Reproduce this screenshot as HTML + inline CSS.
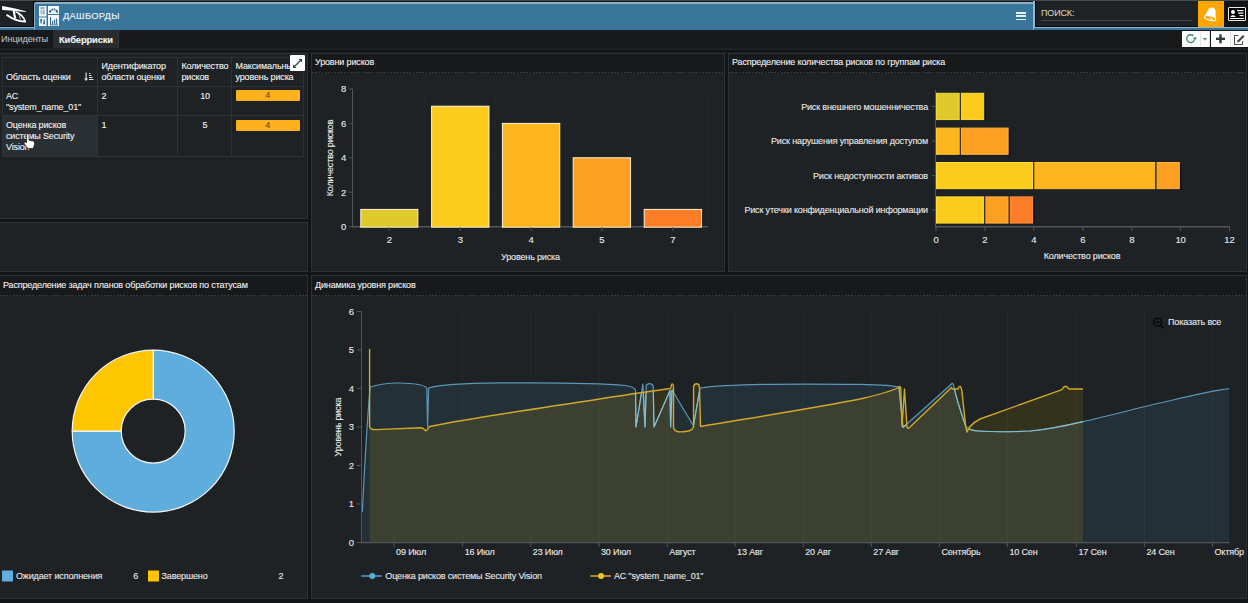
<!DOCTYPE html>
<html><head><meta charset="utf-8">
<style>
*{box-sizing:border-box;margin:0;padding:0}
html,body{width:1248px;height:603px;overflow:hidden;background:#121415;font-family:"Liberation Sans",sans-serif;font-size:9px;color:#e6e6e6}
.a{position:absolute}
.panel{position:absolute;background:#1e2224;border:1px solid #2c3234}
.ttl{position:absolute;left:0;right:0;top:0;height:19px;background:#17191b;padding:3px 0 0 3px;line-height:11px;white-space:nowrap;color:#eee}
.ttl:after{content:"";position:absolute;left:0;right:0;bottom:0;height:1px;background:repeating-linear-gradient(90deg,#363b3e 0 1.6px,transparent 1.6px 3.25px)}
.ttl.b{height:20px;padding-top:4px}
.tx{white-space:nowrap;line-height:11px;color:#f0f0f0}
svg text{font-family:"Liberation Sans",sans-serif;stroke:#ececec;stroke-width:0.12px}
body{-webkit-text-stroke-width:0.12px;letter-spacing:-0.15px}
svg text{letter-spacing:-0.15px}
</style></head><body>
<!-- top strip -->
<div class="a" style="left:0;top:0;width:1248px;height:1px;background:#454b50"></div>
<!-- logo box -->
<div class="a" style="left:0;top:1px;width:34px;height:26px;background:#1e2224;border-bottom:1px solid #050607;border-right:1px solid #050607"></div>
<svg class="a" style="left:0;top:0" width="34" height="28" viewBox="0 0 34 28">
 <path d="M2.6 6.1 C1.8 6.3 1.8 9.8 2.6 9.9 L13 10.8 L25.8 12.1 L25.8 11.2 L14 8.3 Z" fill="#fff"/>
 <path d="M13.7 10 Q14.2 15 15.4 18.6" stroke="#fff" stroke-width="2.2" fill="none"/>
 <path d="M7.2 15.2 C12 18.6, 19 21.3, 25.2 21.6" stroke="#fff" stroke-width="2" fill="none" stroke-linecap="round"/>
 <path d="M15.6 11.7 C20 13.5, 23.5 16.5, 25 21" stroke="#fff" stroke-width="1.6" fill="none"/>
 <path d="M18.6 13.3 L20.4 19.2" stroke="#fff" stroke-width="0.8" fill="none"/>
</svg>
<!-- blue band under everything -->
<div class="a" style="left:0;top:27px;width:1248px;height:3px;background:#3a769c"></div>
<div class="a" style="left:0;top:27px;width:34px;height:1px;background:#8fb4cc"></div>
<div class="a" style="left:1034px;top:27px;width:214px;height:1px;background:#93b8cf"></div>
<!-- header blue -->
<div class="a" style="left:34px;top:2px;width:1000px;height:28px;background:#3a769c;border:1px solid #86afca;border-top:2px solid #8cb0c6;border-bottom:none;border-radius:2px 2px 0 0"></div>
<!-- dashboard icon -->
<svg class="a" style="left:38px;top:5px" width="22" height="22" viewBox="0 0 22 22">
 <rect x="1" y="1" width="7.5" height="10.5" fill="#f4f8fb"/>
 <rect x="10" y="1" width="11" height="8" fill="#f4f8fb"/>
 <rect x="1" y="12.5" width="7.5" height="8.5" fill="#f4f8fb"/>
 <rect x="10" y="10" width="11" height="11" fill="#f4f8fb"/>
 <rect x="2.5" y="2.5" width="4" height="1" fill="#2d5f80"/>
 <rect x="2.5" y="4.5" width="2" height="5" fill="#9dbcd0"/>
 <rect x="5" y="4.5" width="2" height="5" fill="#9dbcd0"/>
 <path d="M11.8 6.6 Q15.5 1.8 19.2 6.6" stroke="#2d5f80" stroke-width="1.8" fill="none" stroke-dasharray="1.5 0.9"/><circle cx="12" cy="6.8" r="1" fill="#2d5f80"/><circle cx="19" cy="6.8" r="1" fill="#2d5f80"/>
 <rect x="2.5" y="14.5" width="1.2" height="4" fill="#2d5f80"/><circle cx="3.1" cy="15" r="1" fill="#2d5f80"/>
 <rect x="5.5" y="14.5" width="1.2" height="4" fill="#2d5f80"/><circle cx="6.1" cy="18.5" r="1" fill="#2d5f80"/>
 <rect x="12" y="12" width="1" height="8" fill="#2d5f80"/><rect x="12" y="19.5" width="8" height="0.8" fill="#2d5f80"/>
 <rect x="14" y="16" width="1.2" height="3.5" fill="#3a769c"/><rect x="16" y="14.5" width="1.2" height="5" fill="#3a769c"/><rect x="18" y="13.5" width="1.2" height="6" fill="#3a769c"/>
</svg>
<div class="a" style="left:63px;top:11px;font-size:9.3px;letter-spacing:0.3px;color:#eef4f8;white-space:nowrap">ДАШБОРДЫ</div>
<!-- hamburger -->
<div class="a" style="left:1016px;top:12.2px;width:10px;height:1.8px;background:#e4f1fb"></div>
<div class="a" style="left:1016px;top:15.3px;width:10px;height:1.8px;background:#e4f1fb"></div>
<div class="a" style="left:1016px;top:18.5px;width:10px;height:1.8px;background:#e4f1fb"></div>
<!-- search -->
<div class="a" style="left:1033px;top:1px;width:2px;height:27px;background:#93b8cf"></div>
<div class="a" style="left:1035px;top:1px;width:163px;height:26px;background:#1e2224;border-left:1px solid #050607;border-bottom:1px solid #050607"></div>
<div class="a" style="left:1041px;top:7.5px;font-size:9px;color:#cfcbbf;white-space:nowrap">ПОИСК:</div>
<div class="a" style="left:1041px;top:19.5px;width:151px;height:1px;background:#43494c"></div>
<!-- bell -->
<div class="a" style="left:1198px;top:1px;width:26px;height:26px;background:#ffa500"></div>
<svg class="a" style="left:1198px;top:1px" width="26" height="26" viewBox="0 0 26 26">
 <g transform="rotate(14 13 13)">
 <path d="M7.6 15.8 C8.8 12 9 8.6 10.6 7.2 C12 6 14.4 6 15.6 7.2 C17.2 8.6 17.2 12 18.6 15.8 C16 17.6 10.2 17.6 7.6 15.8 Z" fill="#fff"/>
 <ellipse cx="13.1" cy="17.2" rx="5.9" ry="2.1" fill="#ffa500" stroke="#fff" stroke-width="1.1"/>
 <circle cx="14.6" cy="17.8" r="1.1" fill="#fff"/>
 </g>
</svg>
<!-- profile card -->
<div class="a" style="left:1228px;top:7px;width:18px;height:14px;background:#000;border:1px solid #e8e8e8;border-radius:1px"></div>
<svg class="a" style="left:1228px;top:7px" width="18" height="14" viewBox="0 0 18 14">
 <circle cx="5" cy="5" r="2" fill="#fff"/><path d="M2.5 10 C2.5 7.5 7.5 7.5 7.5 10 Z" fill="#fff"/>
 <rect x="9" y="3" width="6.5" height="1.2" fill="#fff"/><rect x="10" y="5.5" width="5.5" height="1.2" fill="#fff"/><rect x="11.5" y="8" width="4" height="1.2" fill="#fff"/>
 <rect x="2" y="11" width="14" height="1" fill="#fff"/>
</svg>
<!-- tabs bar -->
<div class="a" style="left:0;top:30px;width:1248px;height:17px;background:#18191b"></div>
<div class="a" style="left:0;top:47px;width:1248px;height:6px;background:linear-gradient(#141617 0 1px,#1c1f20 1px 2px,#212426 2px 3px,#131516 3px 4px,#101213 4px 5px,#1d2022 5px 6px)"></div>
<div class="a" style="left:1px;top:33.5px;color:#b7bec2;white-space:nowrap;font-size:9.2px">Инциденты</div>
<div class="a" style="left:53px;top:30px;width:66px;height:18px;background:#282c2e;border-right:1px solid #33383a"></div>
<div class="a" style="left:59px;top:33.5px;color:#f2f2f2;font-weight:bold;white-space:nowrap;font-size:9.4px">Киберриски</div>
<!-- toolbar buttons -->
<div class="a" style="left:1182px;top:31px;width:28px;height:16px;background:#fbfbfb;border-right:1px solid #ddd"></div>
<div class="a" style="left:1200px;top:32px;width:1px;height:14px;background:#e2e2e2"></div>
<svg class="a" style="left:1182px;top:31px" width="28" height="16" viewBox="0 0 28 16">
 <path d="M12.2 9.2 A3.9 3.9 0 1 1 11.3 4.8" stroke="#3d8b73" stroke-width="1.4" fill="none"/>
 <path d="M10.8 6.6 L15 6.6 L12.9 9.6 Z" fill="#3d8b73"/>
 <path d="M21 7 L25 7 L23 9.5 Z" fill="#3d8b73"/>
</svg>
<div class="a" style="left:1211px;top:31px;width:37px;height:16px;background:#fbfbfb"></div>
<div class="a" style="left:1230px;top:32px;width:1px;height:14px;background:#e2e2e2"></div>
<svg class="a" style="left:1211px;top:31px" width="37" height="16" viewBox="0 0 37 16">
 <rect x="5" y="6.6" width="9" height="2.4" fill="#2f3a3f"/><rect x="8.3" y="3.3" width="2.4" height="9" fill="#2f3a3f"/>
 <path d="M27.5 4.5 L23.5 4.5 L23.5 13.5 L31.5 13.5 L31.5 10" stroke="#555" stroke-width="1.1" fill="none"/>
 <path d="M26 11.5 L26.5 9.5 L32 4 L33.5 5.5 L28 11 Z" fill="#444"/>
</svg>

<!-- PANELS -->
<div class="panel" style="left:-1px;top:53px;width:309px;height:166px"></div>
<div class="panel" style="left:-1px;top:222px;width:309px;height:50px"></div>
<div class="panel" style="left:311px;top:53px;width:414px;height:219px"><div class="ttl">Уровни рисков</div></div>
<div class="panel" style="left:728px;top:53px;width:519px;height:219px"><div class="ttl">Распределение количества рисков по группам риска</div></div>
<div class="panel" style="left:-1px;top:275px;width:309px;height:324px"><div class="ttl b" style="padding-left:3px">Распределение задач планов обработки рисков по статусам</div></div>
<div class="panel" style="left:311px;top:275px;width:936px;height:324px"><div class="ttl b">Динамика уровня рисков</div></div>


<!-- CHARTS -->
<svg class="a" style="left:0;top:0" width="1248" height="603" viewBox="0 0 1248 603">
<line x1="353.5" x2="708" y1="192.2" y2="192.2" stroke="#222628" stroke-width="1"/>
<line x1="353.5" x2="708" y1="157.8" y2="157.8" stroke="#222628" stroke-width="1"/>
<line x1="353.5" x2="708" y1="123.4" y2="123.4" stroke="#222628" stroke-width="1"/>
<line x1="353.5" x2="708" y1="89.0" y2="89.0" stroke="#222628" stroke-width="1"/>
<line x1="424.5" x2="424.5" y1="89" y2="226.6" stroke="#222628" stroke-width="1"/>
<line x1="495.5" x2="495.5" y1="89" y2="226.6" stroke="#222628" stroke-width="1"/>
<line x1="566.5" x2="566.5" y1="89" y2="226.6" stroke="#222628" stroke-width="1"/>
<line x1="637.5" x2="637.5" y1="89" y2="226.6" stroke="#222628" stroke-width="1"/>
<line x1="708" x2="708" y1="89" y2="226.6" stroke="#222628" stroke-width="1"/>
<line x1="352.5" x2="352.5" y1="89" y2="227" stroke="#50575a" stroke-width="1"/>
<line x1="352" x2="708" y1="226.8" y2="226.8" stroke="#50575a" stroke-width="1.5"/>
<rect x="361.8" y="210.4" width="57.1" height="17.8" fill="#000" fill-opacity="0.45"/>
<rect x="360.8" y="209.4" width="57.1" height="17.8" fill="#e0c92c" stroke="#fff6d8" stroke-width="1"/>
<rect x="432.6" y="107.2" width="57.4" height="121.0" fill="#000" fill-opacity="0.45"/>
<rect x="431.6" y="106.2" width="57.4" height="121.0" fill="#fbcb1d" stroke="#fff6d8" stroke-width="1"/>
<rect x="503.4" y="124.4" width="57.4" height="103.8" fill="#000" fill-opacity="0.45"/>
<rect x="502.4" y="123.4" width="57.4" height="103.8" fill="#fdb51d" stroke="#fff6d8" stroke-width="1"/>
<rect x="574.2" y="158.8" width="57.4" height="69.4" fill="#000" fill-opacity="0.45"/>
<rect x="573.2" y="157.8" width="57.4" height="69.4" fill="#fd9f22" stroke="#fff6d8" stroke-width="1"/>
<rect x="645.2" y="210.4" width="57.4" height="17.8" fill="#000" fill-opacity="0.45"/>
<rect x="644.2" y="209.4" width="57.4" height="17.8" fill="#fd7e27" stroke="#fff6d8" stroke-width="1"/>
<line x1="349" x2="353" y1="226.6" y2="226.6" stroke="#50575a"/>
<text x="346.2" y="229.9" text-anchor="end" font-size="9.5" fill="#e6e6e6">0</text>
<line x1="349" x2="353" y1="192.2" y2="192.2" stroke="#50575a"/>
<text x="346.2" y="195.5" text-anchor="end" font-size="9.5" fill="#e6e6e6">2</text>
<line x1="349" x2="353" y1="157.8" y2="157.8" stroke="#50575a"/>
<text x="346.2" y="161.1" text-anchor="end" font-size="9.5" fill="#e6e6e6">4</text>
<line x1="349" x2="353" y1="123.4" y2="123.4" stroke="#50575a"/>
<text x="346.2" y="126.7" text-anchor="end" font-size="9.5" fill="#e6e6e6">6</text>
<line x1="349" x2="353" y1="89.0" y2="89.0" stroke="#50575a"/>
<text x="346.2" y="92.3" text-anchor="end" font-size="9.5" fill="#e6e6e6">8</text>
<line x1="389.3" x2="389.3" y1="227" y2="231" stroke="#50575a"/>
<text x="389.3" y="243" text-anchor="middle" font-size="9.5" fill="#e6e6e6">2</text>
<line x1="460.3" x2="460.3" y1="227" y2="231" stroke="#50575a"/>
<text x="460.3" y="243" text-anchor="middle" font-size="9.5" fill="#e6e6e6">3</text>
<line x1="531.1" x2="531.1" y1="227" y2="231" stroke="#50575a"/>
<text x="531.1" y="243" text-anchor="middle" font-size="9.5" fill="#e6e6e6">4</text>
<line x1="601.9" x2="601.9" y1="227" y2="231" stroke="#50575a"/>
<text x="601.9" y="243" text-anchor="middle" font-size="9.5" fill="#e6e6e6">5</text>
<line x1="672.9" x2="672.9" y1="227" y2="231" stroke="#50575a"/>
<text x="672.9" y="243" text-anchor="middle" font-size="9.5" fill="#e6e6e6">7</text>
<text x="530.5" y="259.5" text-anchor="middle" font-size="9" fill="#e6e6e6">Уровень риска</text>
<text transform="translate(333,158) rotate(-90)" text-anchor="middle" font-size="9" fill="#e6e6e6">Количество рисков</text>
<line x1="984.9" x2="984.9" y1="90" y2="226.5" stroke="#222628"/>
<line x1="1033.8" x2="1033.8" y1="90" y2="226.5" stroke="#222628"/>
<line x1="1082.8" x2="1082.8" y1="90" y2="226.5" stroke="#222628"/>
<line x1="1131.7" x2="1131.7" y1="90" y2="226.5" stroke="#222628"/>
<line x1="1180.6" x2="1180.6" y1="90" y2="226.5" stroke="#222628"/>
<line x1="1229.5" x2="1229.5" y1="90" y2="226.5" stroke="#222628"/>
<rect x="937.5" y="94.3" width="48.4" height="26.3" fill="#000" fill-opacity="0.45"/><rect x="937.5" y="129.1" width="72.9" height="26.2" fill="#000" fill-opacity="0.45"/><rect x="937.5" y="163.5" width="244.1" height="26.2" fill="#000" fill-opacity="0.45"/><rect x="937.5" y="197.9" width="97.3" height="26.2" fill="#000" fill-opacity="0.45"/>
<rect x="936.5" y="93.3" width="22.7" height="26.3" fill="#e0c92c" stroke="#efdc3c" stroke-width="1"/>
<rect x="961.0" y="93.3" width="22.7" height="26.3" fill="#fbcb1d" stroke="#ffdc3a" stroke-width="1"/>
<line x1="960.5" x2="960.5" y1="92.8" y2="120.1" stroke="#3d3311" stroke-width="1"/>
<line x1="932" x2="936" y1="106.4" y2="106.4" stroke="#50575a"/>
<text x="928" y="109.6" text-anchor="end" font-size="9" fill="#e6e6e6">Риск внешнего мошенничества</text>
<rect x="936.5" y="128.1" width="22.7" height="26.2" fill="#fdb51d" stroke="#ffc83a" stroke-width="1"/>
<rect x="961.0" y="128.1" width="47.1" height="26.2" fill="#fd9f22" stroke="#ffb43e" stroke-width="1"/>
<line x1="960.5" x2="960.5" y1="127.6" y2="154.8" stroke="#3d3311" stroke-width="1"/>
<line x1="932" x2="936" y1="141.2" y2="141.2" stroke="#50575a"/>
<text x="928" y="144.4" text-anchor="end" font-size="9" fill="#e6e6e6">Риск нарушения управления доступом</text>
<rect x="936.5" y="162.5" width="96.0" height="26.2" fill="#fbcb1d" stroke="#ffdc3a" stroke-width="1"/>
<rect x="1034.3" y="162.5" width="120.5" height="26.2" fill="#fdb51d" stroke="#ffc83a" stroke-width="1"/>
<line x1="1033.8" x2="1033.8" y1="162.0" y2="189.2" stroke="#3d3311" stroke-width="1"/>
<rect x="1156.6" y="162.5" width="22.7" height="26.2" fill="#fd9f22" stroke="#ffb43e" stroke-width="1"/>
<line x1="1156.1" x2="1156.1" y1="162.0" y2="189.2" stroke="#3d3311" stroke-width="1"/>
<line x1="932" x2="936" y1="175.6" y2="175.6" stroke="#50575a"/>
<text x="928" y="178.8" text-anchor="end" font-size="9" fill="#e6e6e6">Риск недоступности активов</text>
<rect x="936.5" y="196.9" width="47.1" height="26.2" fill="#fbcb1d" stroke="#ffdc3a" stroke-width="1"/>
<rect x="985.4" y="196.9" width="22.7" height="26.2" fill="#fd9f22" stroke="#ffb43e" stroke-width="1"/>
<line x1="984.9" x2="984.9" y1="196.4" y2="223.6" stroke="#3d3311" stroke-width="1"/>
<rect x="1009.9" y="196.9" width="22.7" height="26.2" fill="#fd7e27" stroke="#ff9240" stroke-width="1"/>
<line x1="1009.4" x2="1009.4" y1="196.4" y2="223.6" stroke="#3d3311" stroke-width="1"/>
<line x1="932" x2="936" y1="210.0" y2="210.0" stroke="#50575a"/>
<text x="928" y="213.2" text-anchor="end" font-size="9" fill="#e6e6e6">Риск утечки конфиденциальной информации</text>
<line x1="935.5" x2="935.5" y1="90" y2="227" stroke="#50575a"/>
<line x1="935" x2="1230" y1="226.8" y2="226.8" stroke="#50575a" stroke-width="1.5"/>
<line x1="936.0" x2="936.0" y1="227" y2="231" stroke="#50575a"/>
<text x="936.0" y="242.5" text-anchor="middle" font-size="9.5" fill="#e6e6e6">0</text>
<line x1="984.9" x2="984.9" y1="227" y2="231" stroke="#50575a"/>
<text x="984.9" y="242.5" text-anchor="middle" font-size="9.5" fill="#e6e6e6">2</text>
<line x1="1033.8" x2="1033.8" y1="227" y2="231" stroke="#50575a"/>
<text x="1033.8" y="242.5" text-anchor="middle" font-size="9.5" fill="#e6e6e6">4</text>
<line x1="1082.8" x2="1082.8" y1="227" y2="231" stroke="#50575a"/>
<text x="1082.8" y="242.5" text-anchor="middle" font-size="9.5" fill="#e6e6e6">6</text>
<line x1="1131.7" x2="1131.7" y1="227" y2="231" stroke="#50575a"/>
<text x="1131.7" y="242.5" text-anchor="middle" font-size="9.5" fill="#e6e6e6">8</text>
<line x1="1180.6" x2="1180.6" y1="227" y2="231" stroke="#50575a"/>
<text x="1180.6" y="242.5" text-anchor="middle" font-size="9.5" fill="#e6e6e6">10</text>
<line x1="1229.5" x2="1229.5" y1="227" y2="231" stroke="#50575a"/>
<text x="1229.5" y="242.5" text-anchor="middle" font-size="9.5" fill="#e6e6e6">12</text>
<text x="1082" y="259" text-anchor="middle" font-size="9" fill="#e6e6e6">Количество рисков</text>
<path d="M153.2 350.1 A81 81 0 1 1 72.19999999999999 431.1 L121.19999999999999 431.1 A32 32 0 1 0 153.2 399.1 Z" fill="#5eaddc" stroke="#f4f4f4" stroke-width="1.2" stroke-linejoin="round"/>
<path d="M72.19999999999999 431.1 A81 81 0 0 1 153.2 350.1 L153.2 399.1 A32 32 0 0 0 121.19999999999999 431.1 Z" fill="#fec600" stroke="#f4f4f4" stroke-width="1.2" stroke-linejoin="round"/>
<rect x="2" y="570.5" width="11" height="11" fill="#5eaddc"/>
<text x="16" y="579.3" font-size="9" fill="#e6e6e6">Ожидает исполнения</text>
<text x="133.3" y="579.3" font-size="9" fill="#e6e6e6">6</text>
<rect x="148" y="570.5" width="11" height="11" fill="#fec600"/>
<text x="161.5" y="579.3" font-size="9" fill="#e6e6e6">Завершено</text>
<text x="278.6" y="579.3" font-size="9" fill="#e6e6e6">2</text>
<defs><clipPath id="bclip"><path d="M362.3 512 C364 480, 367.5 410, 370.3 387 C380 384, 390 382.8, 399 383 C410 383.2, 424 384, 426.8 388 L427.6 427 L428.6 388 C440 384.5, 470 383.2, 500 382.9 C540 382.6, 600 383, 625 385.5 C631 386.3, 634.5 387.5, 635.5 390 L636 427 L642.9 384 L645 427 L646.2 386 C647 382.8, 652 382.8, 653.2 386 L654 427 L670 390.5 L670.6 427 L672 390 L692.4 424 C693 425.5, 693.4 425, 693.8 424 L700 388 C720 385, 780 383.4, 860 384.4 C880 384.8, 895 385.5, 899 387.4 L903 427.5 L951.5 384 C952 383, 952.8 383, 953.5 385 C956 397, 960 410, 965.5 425.5 C967 429, 970 430.4, 978 431 C990 431.8, 1010 432, 1030 431 C1050 429.5, 1065 426, 1083 421.7 C1110 415.5, 1140 407.5, 1160 403 C1190 396, 1210 391, 1229 388.7 L1229 542.5 L362.3 542.5 Z"/></clipPath><clipPath id="yclip"><path d="M369.6 349 L369.6 426.5 C370 429.3, 372 429.6, 376 429.6 L421 427.8 C423.5 427.8, 425 430.8, 426 430.8 C427 430.8, 428 428, 429.5 426.5 C470 418, 520 411.5, 560 405 C600 399, 640 392.5, 670.3 388.5 L671 387 C671.5 382.8, 673 382.8, 673.5 387 L673.5 427 C674 432, 678 432.2, 683 431.8 C690 431.4, 692.8 430, 693.5 427 L693.6 387 C694 382.6, 699 382.6, 699.5 387 L700.5 426.5 C760 416.5, 820 407, 860 399 C880 394.5, 892 391, 898.5 387.5 C899.2 386, 900.5 386, 900.8 388 L902 426 L904.5 389 L907 427.5 C907.5 428.6, 908.5 428.6, 909.2 427.8 L951.5 387.5 L952.3 389 L958 389 C959 385.2, 961 385.2, 962 391.5 L965.5 425 L967 432 L969.5 427 C972 424, 975 421.5, 980 419 L1062 389.6 C1064 385.3, 1066.5 385.3, 1069 389 L1083 389 L1083 542.5 L369.6 542.5 Z"/></clipPath></defs>
<line x1="394.1" x2="394.1" y1="311.5" y2="542.5" stroke="#202426"/>
<line x1="462.7" x2="462.7" y1="311.5" y2="542.5" stroke="#202426"/>
<line x1="530.8" x2="530.8" y1="311.5" y2="542.5" stroke="#202426"/>
<line x1="599" x2="599" y1="311.5" y2="542.5" stroke="#202426"/>
<line x1="667.3" x2="667.3" y1="311.5" y2="542.5" stroke="#202426"/>
<line x1="735.1" x2="735.1" y1="311.5" y2="542.5" stroke="#202426"/>
<line x1="803.2" x2="803.2" y1="311.5" y2="542.5" stroke="#202426"/>
<line x1="871.3" x2="871.3" y1="311.5" y2="542.5" stroke="#202426"/>
<line x1="939.4" x2="939.4" y1="311.5" y2="542.5" stroke="#202426"/>
<line x1="1007.4" x2="1007.4" y1="311.5" y2="542.5" stroke="#202426"/>
<line x1="1076.4" x2="1076.4" y1="311.5" y2="542.5" stroke="#202426"/>
<line x1="1144.4" x2="1144.4" y1="311.5" y2="542.5" stroke="#202426"/>
<line x1="1212.5" x2="1212.5" y1="311.5" y2="542.5" stroke="#202426"/>
<path d="M362.3 512 C364 480, 367.5 410, 370.3 387 C380 384, 390 382.8, 399 383 C410 383.2, 424 384, 426.8 388 L427.6 427 L428.6 388 C440 384.5, 470 383.2, 500 382.9 C540 382.6, 600 383, 625 385.5 C631 386.3, 634.5 387.5, 635.5 390 L636 427 L642.9 384 L645 427 L646.2 386 C647 382.8, 652 382.8, 653.2 386 L654 427 L670 390.5 L670.6 427 L672 390 L692.4 424 C693 425.5, 693.4 425, 693.8 424 L700 388 C720 385, 780 383.4, 860 384.4 C880 384.8, 895 385.5, 899 387.4 L903 427.5 L951.5 384 C952 383, 952.8 383, 953.5 385 C956 397, 960 410, 965.5 425.5 C967 429, 970 430.4, 978 431 C990 431.8, 1010 432, 1030 431 C1050 429.5, 1065 426, 1083 421.7 C1110 415.5, 1140 407.5, 1160 403 C1190 396, 1210 391, 1229 388.7 L1229 542.5 L362.3 542.5 Z" fill="#243038"/>
<path d="M369.6 349 L369.6 426.5 C370 429.3, 372 429.6, 376 429.6 L421 427.8 C423.5 427.8, 425 430.8, 426 430.8 C427 430.8, 428 428, 429.5 426.5 C470 418, 520 411.5, 560 405 C600 399, 640 392.5, 670.3 388.5 L671 387 C671.5 382.8, 673 382.8, 673.5 387 L673.5 427 C674 432, 678 432.2, 683 431.8 C690 431.4, 692.8 430, 693.5 427 L693.6 387 C694 382.6, 699 382.6, 699.5 387 L700.5 426.5 C760 416.5, 820 407, 860 399 C880 394.5, 892 391, 898.5 387.5 C899.2 386, 900.5 386, 900.8 388 L902 426 L904.5 389 L907 427.5 C907.5 428.6, 908.5 428.6, 909.2 427.8 L951.5 387.5 L952.3 389 L958 389 C959 385.2, 961 385.2, 962 391.5 L965.5 425 L967 432 L969.5 427 C972 424, 975 421.5, 980 419 L1062 389.6 C1064 385.3, 1066.5 385.3, 1069 389 L1083 389 L1083 542.5 L369.6 542.5 Z" fill="#33331d"/>
<path d="M369.6 349 L369.6 426.5 C370 429.3, 372 429.6, 376 429.6 L421 427.8 C423.5 427.8, 425 430.8, 426 430.8 C427 430.8, 428 428, 429.5 426.5 C470 418, 520 411.5, 560 405 C600 399, 640 392.5, 670.3 388.5 L671 387 C671.5 382.8, 673 382.8, 673.5 387 L673.5 427 C674 432, 678 432.2, 683 431.8 C690 431.4, 692.8 430, 693.5 427 L693.6 387 C694 382.6, 699 382.6, 699.5 387 L700.5 426.5 C760 416.5, 820 407, 860 399 C880 394.5, 892 391, 898.5 387.5 C899.2 386, 900.5 386, 900.8 388 L902 426 L904.5 389 L907 427.5 C907.5 428.6, 908.5 428.6, 909.2 427.8 L951.5 387.5 L952.3 389 L958 389 C959 385.2, 961 385.2, 962 391.5 L965.5 425 L967 432 L969.5 427 C972 424, 975 421.5, 980 419 L1062 389.6 C1064 385.3, 1066.5 385.3, 1069 389 L1083 389 L1083 542.5 L369.6 542.5 Z" fill="#3c4030" clip-path="url(#bclip)"/>
<line x1="394.1" x2="394.1" y1="311.5" y2="542.5" stroke="#ffffff" stroke-opacity="0.03"/>
<line x1="462.7" x2="462.7" y1="311.5" y2="542.5" stroke="#ffffff" stroke-opacity="0.03"/>
<line x1="530.8" x2="530.8" y1="311.5" y2="542.5" stroke="#ffffff" stroke-opacity="0.03"/>
<line x1="599" x2="599" y1="311.5" y2="542.5" stroke="#ffffff" stroke-opacity="0.03"/>
<line x1="667.3" x2="667.3" y1="311.5" y2="542.5" stroke="#ffffff" stroke-opacity="0.03"/>
<line x1="735.1" x2="735.1" y1="311.5" y2="542.5" stroke="#ffffff" stroke-opacity="0.03"/>
<line x1="803.2" x2="803.2" y1="311.5" y2="542.5" stroke="#ffffff" stroke-opacity="0.03"/>
<line x1="871.3" x2="871.3" y1="311.5" y2="542.5" stroke="#ffffff" stroke-opacity="0.03"/>
<line x1="939.4" x2="939.4" y1="311.5" y2="542.5" stroke="#ffffff" stroke-opacity="0.03"/>
<line x1="1007.4" x2="1007.4" y1="311.5" y2="542.5" stroke="#ffffff" stroke-opacity="0.03"/>
<line x1="1076.4" x2="1076.4" y1="311.5" y2="542.5" stroke="#ffffff" stroke-opacity="0.03"/>
<line x1="1144.4" x2="1144.4" y1="311.5" y2="542.5" stroke="#ffffff" stroke-opacity="0.03"/>
<line x1="1212.5" x2="1212.5" y1="311.5" y2="542.5" stroke="#ffffff" stroke-opacity="0.03"/>
<path d="M362.3 512 C364 480, 367.5 410, 370.3 387 C380 384, 390 382.8, 399 383 C410 383.2, 424 384, 426.8 388 L427.6 427 L428.6 388 C440 384.5, 470 383.2, 500 382.9 C540 382.6, 600 383, 625 385.5 C631 386.3, 634.5 387.5, 635.5 390 L636 427 L642.9 384 L645 427 L646.2 386 C647 382.8, 652 382.8, 653.2 386 L654 427 L670 390.5 L670.6 427 L672 390 L692.4 424 C693 425.5, 693.4 425, 693.8 424 L700 388 C720 385, 780 383.4, 860 384.4 C880 384.8, 895 385.5, 899 387.4 L903 427.5 L951.5 384 C952 383, 952.8 383, 953.5 385 C956 397, 960 410, 965.5 425.5 C967 429, 970 430.4, 978 431 C990 431.8, 1010 432, 1030 431 C1050 429.5, 1065 426, 1083 421.7 C1110 415.5, 1140 407.5, 1160 403 C1190 396, 1210 391, 1229 388.7" fill="none" stroke="#5b97b8" stroke-width="1.2" stroke-linejoin="round"/>
<path d="M362.3 512 C364 480, 367.5 410, 370.3 387 C380 384, 390 382.8, 399 383 C410 383.2, 424 384, 426.8 388 L427.6 427 L428.6 388 C440 384.5, 470 383.2, 500 382.9 C540 382.6, 600 383, 625 385.5 C631 386.3, 634.5 387.5, 635.5 390 L636 427 L642.9 384 L645 427 L646.2 386 C647 382.8, 652 382.8, 653.2 386 L654 427 L670 390.5 L670.6 427 L672 390 L692.4 424 C693 425.5, 693.4 425, 693.8 424 L700 388 C720 385, 780 383.4, 860 384.4 C880 384.8, 895 385.5, 899 387.4 L903 427.5 L951.5 384 C952 383, 952.8 383, 953.5 385 C956 397, 960 410, 965.5 425.5 C967 429, 970 430.4, 978 431 C990 431.8, 1010 432, 1030 431 C1050 429.5, 1065 426, 1083 421.7 C1110 415.5, 1140 407.5, 1160 403 C1190 396, 1210 391, 1229 388.7" fill="none" stroke="#88bccb" stroke-width="1.2" stroke-linejoin="round" clip-path="url(#yclip)"/>
<path d="M369.6 349 L369.6 426.5 C370 429.3, 372 429.6, 376 429.6 L421 427.8 C423.5 427.8, 425 430.8, 426 430.8 C427 430.8, 428 428, 429.5 426.5 C470 418, 520 411.5, 560 405 C600 399, 640 392.5, 670.3 388.5 L671 387 C671.5 382.8, 673 382.8, 673.5 387 L673.5 427 C674 432, 678 432.2, 683 431.8 C690 431.4, 692.8 430, 693.5 427 L693.6 387 C694 382.6, 699 382.6, 699.5 387 L700.5 426.5 C760 416.5, 820 407, 860 399 C880 394.5, 892 391, 898.5 387.5 C899.2 386, 900.5 386, 900.8 388 L902 426 L904.5 389 L907 427.5 C907.5 428.6, 908.5 428.6, 909.2 427.8 L951.5 387.5 L952.3 389 L958 389 C959 385.2, 961 385.2, 962 391.5 L965.5 425 L967 432 L969.5 427 C972 424, 975 421.5, 980 419 L1062 389.6 C1064 385.3, 1066.5 385.3, 1069 389 L1083 389" fill="none" stroke="#d0a82a" stroke-width="1.4" stroke-linejoin="round"/>
<line x1="361.5" x2="361.5" y1="311.5" y2="543" stroke="#50575a"/>
<line x1="361" x2="1229.5" y1="542.6" y2="542.6" stroke="#50575a" stroke-width="1.2"/>
<line x1="357" x2="361.5" y1="542.5" y2="542.5" stroke="#50575a"/>
<text x="353.8" y="545.9" text-anchor="end" font-size="9.5" fill="#e6e6e6">0</text>
<line x1="357" x2="361.5" y1="504.0" y2="504.0" stroke="#50575a"/>
<text x="353.8" y="507.4" text-anchor="end" font-size="9.5" fill="#e6e6e6">1</text>
<line x1="357" x2="361.5" y1="465.5" y2="465.5" stroke="#50575a"/>
<text x="353.8" y="468.9" text-anchor="end" font-size="9.5" fill="#e6e6e6">2</text>
<line x1="357" x2="361.5" y1="427.0" y2="427.0" stroke="#50575a"/>
<text x="353.8" y="430.4" text-anchor="end" font-size="9.5" fill="#e6e6e6">3</text>
<line x1="357" x2="361.5" y1="388.5" y2="388.5" stroke="#50575a"/>
<text x="353.8" y="391.9" text-anchor="end" font-size="9.5" fill="#e6e6e6">4</text>
<line x1="357" x2="361.5" y1="350.0" y2="350.0" stroke="#50575a"/>
<text x="353.8" y="353.4" text-anchor="end" font-size="9.5" fill="#e6e6e6">5</text>
<line x1="357" x2="361.5" y1="311.5" y2="311.5" stroke="#50575a"/>
<text x="353.8" y="314.9" text-anchor="end" font-size="9.5" fill="#e6e6e6">6</text>
<line x1="394.1" x2="394.1" y1="543" y2="547" stroke="#50575a"/>
<text x="396.1" y="555.2" font-size="9" fill="#e6e6e6">09 Июл</text>
<line x1="462.7" x2="462.7" y1="543" y2="547" stroke="#50575a"/>
<text x="464.7" y="555.2" font-size="9" fill="#e6e6e6">16 Июл</text>
<line x1="530.8" x2="530.8" y1="543" y2="547" stroke="#50575a"/>
<text x="532.8" y="555.2" font-size="9" fill="#e6e6e6">23 Июл</text>
<line x1="599" x2="599" y1="543" y2="547" stroke="#50575a"/>
<text x="601" y="555.2" font-size="9" fill="#e6e6e6">30 Июл</text>
<line x1="667.3" x2="667.3" y1="543" y2="547" stroke="#50575a"/>
<text x="669.3" y="555.2" font-size="9" fill="#e6e6e6">Август</text>
<line x1="735.1" x2="735.1" y1="543" y2="547" stroke="#50575a"/>
<text x="737.1" y="555.2" font-size="9" fill="#e6e6e6">13 Авг</text>
<line x1="803.2" x2="803.2" y1="543" y2="547" stroke="#50575a"/>
<text x="805.2" y="555.2" font-size="9" fill="#e6e6e6">20 Авг</text>
<line x1="871.3" x2="871.3" y1="543" y2="547" stroke="#50575a"/>
<text x="873.3" y="555.2" font-size="9" fill="#e6e6e6">27 Авг</text>
<line x1="939.4" x2="939.4" y1="543" y2="547" stroke="#50575a"/>
<text x="941.4" y="555.2" font-size="9" fill="#e6e6e6">Сентябрь</text>
<line x1="1007.4" x2="1007.4" y1="543" y2="547" stroke="#50575a"/>
<text x="1009.4" y="555.2" font-size="9" fill="#e6e6e6">10 Сен</text>
<line x1="1076.4" x2="1076.4" y1="543" y2="547" stroke="#50575a"/>
<text x="1078.4" y="555.2" font-size="9" fill="#e6e6e6">17 Сен</text>
<line x1="1144.4" x2="1144.4" y1="543" y2="547" stroke="#50575a"/>
<text x="1146.4" y="555.2" font-size="9" fill="#e6e6e6">24 Сен</text>
<line x1="1212.5" x2="1212.5" y1="543" y2="547" stroke="#50575a"/>
<text x="1214.5" y="555.2" font-size="9" fill="#e6e6e6">Октябр</text>
<text transform="translate(341,427) rotate(-90)" text-anchor="middle" font-size="9" fill="#e6e6e6">Уровень риска</text>
<line x1="361.4" x2="381.8" y1="576" y2="576" stroke="#5f9fc2" stroke-width="1.5"/><circle cx="372.3" cy="576" r="3" fill="#5eaddc"/>
<text x="385.3" y="579.2" font-size="9" fill="#e6e6e6">Оценка рисков системы Security Vision</text>
<line x1="590.2" x2="611" y1="576" y2="576" stroke="#d8ae28" stroke-width="1.5"/><circle cx="601.1" cy="576" r="3" fill="#f7c325"/>
<text x="614" y="579.2" font-size="9" fill="#e6e6e6">АС "system_name_01"</text>
<circle cx="1157.6" cy="322.2" r="3.9" fill="none" stroke="#050505" stroke-width="1.3"/><line x1="1155.6" x2="1159.6" y1="322.2" y2="322.2" stroke="#050505" stroke-width="1.2"/><line x1="1160.5" x2="1163.8" y1="325.1" y2="328.4" stroke="#050505" stroke-width="1.4"/>
<text x="1168" y="324.8" font-size="9" fill="#e6e6e6">Показать все</text>
</svg>
<!-- TABLE -->
<div class="a" style="left:2px;top:57px;width:302px;height:100px;border:1px solid #2c3234;background:#1e2224"></div>
<div class="a" style="left:3px;top:116px;width:94px;height:40px;background:#2a2f33"></div>
<div class="a" style="left:97px;top:58px;width:1px;height:98px;background:#2c3234"></div>
<div class="a" style="left:177px;top:58px;width:1px;height:98px;background:#2c3234"></div>
<div class="a" style="left:231px;top:58px;width:1px;height:98px;background:#2c3234"></div>
<div class="a" style="left:3px;top:86px;width:300px;height:1px;background:#2c3234"></div>
<div class="a" style="left:3px;top:115px;width:300px;height:1px;background:#2c3234"></div>
<div class="tx a" style="left:6px;top:72px">Область оценки</div>
<svg class="a" style="left:84px;top:72px" width="10" height="10" viewBox="0 0 10 10">
 <rect x="1.5" y="0.5" width="1.2" height="7" fill="#ddd"/><path d="M0 6.5 L4.2 6.5 L2.1 9 Z" fill="#ddd"/>
 <rect x="5" y="1" width="1.5" height="1" fill="#ddd"/><rect x="5" y="3" width="2.5" height="1" fill="#ddd"/><rect x="5" y="5" width="3.5" height="1" fill="#ddd"/><rect x="5" y="7" width="4.5" height="1" fill="#ddd"/>
</svg>
<div class="tx a" style="left:101.5px;top:61px">Идентификатор<br>области оценки</div>
<div class="tx a" style="left:181.5px;top:61px">Количество<br>рисков</div>
<div class="tx a" style="left:235.5px;top:61px">Максимальный<br>уровень риска</div>
<div class="a" style="left:290px;top:55px;width:15px;height:16px;background:#fbfbfb;border-radius:1px"></div>
<svg class="a" style="left:290px;top:55px" width="15" height="16" viewBox="0 0 15 16">
 <path d="M4 12 L11 5" stroke="#2c4250" stroke-width="1.2"/>
 <path d="M3 13 L3 9.5 L6.5 13 Z M12 4 L12 7.5 L8.5 4 Z" fill="#2c4250"/>
</svg>
<div class="tx a" style="left:6px;top:91px">АС<br>"system_name_01"</div>
<div class="tx a" style="left:101.5px;top:91px">2</div>
<div class="tx a" style="left:178px;top:91px;width:54px;text-align:center">10</div>
<div class="a" style="left:235.5px;top:90px;width:64.5px;height:11px;background:#fdb11c;border-radius:1px;color:#6b4a06;text-align:center;line-height:11px">4</div>
<div class="tx a" style="left:6px;top:120px">Оценка рисков<br>системы Security<br>Vision</div>
<div class="tx a" style="left:101.5px;top:120px">1</div>
<div class="tx a" style="left:178px;top:120px;width:54px;text-align:center">5</div>
<div class="a" style="left:235.5px;top:119.5px;width:64.5px;height:11px;background:#fdb11c;border-radius:1px;color:#6b4a06;text-align:center;line-height:11px">4</div>
<!-- cursor -->
<svg class="a" style="left:22.5px;top:132.5px" width="14.4" height="19.2" viewBox="0 0 12 16">
 <path d="M3 1 C3.8 0.3 5 0.5 5 1.5 L5 6 L8 6.5 C9.5 7 10 8 9.5 10 L8.5 13 L4 13 L1 9 C0.5 8 1.5 7 3 8 Z" fill="#fff" stroke="#111" stroke-width="0.6"/>
</svg>
</body></html>
